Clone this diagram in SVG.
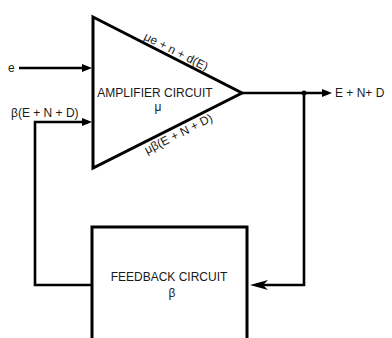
<svg xmlns="http://www.w3.org/2000/svg" width="392" height="338" viewBox="0 0 392 338">
<style>
.shape{fill:none;stroke:#000;stroke-width:3;stroke-linejoin:miter}
.wire{fill:none;stroke:#000;stroke-width:2.6}
text{font-family:"Liberation Sans",Arial,sans-serif;fill:#1a1a1a}
.lbl{font-size:12px}
.small{font-size:12px}
</style>
<defs>
<marker id="arr" markerUnits="userSpaceOnUse" markerWidth="12" markerHeight="10" refX="6" refY="4" orient="auto">
<path d="M0,0 L10,4 L0,8 z" fill="#000"/>
</marker>
<marker id="stealth" markerUnits="userSpaceOnUse" markerWidth="20" markerHeight="12" refX="12" refY="5" orient="auto">
<path d="M0,0 L18,5 L0,10 L5,5 z" fill="#000"/>
</marker>
</defs>
<rect width="392" height="338" fill="#fff"/>
<g id="amplifier">
<path class="shape" d="M93,17 L242,93 L93,168 Z"/>
<text class="lbl" x="155" y="97" text-anchor="middle">AMPLIFIER CIRCUIT</text>
<text class="lbl" x="158" y="111" text-anchor="middle">μ</text>
<text class="small" transform="translate(173,57.8) rotate(27)" x="0" y="-3" text-anchor="middle">μe + n + d(E)</text>
<text class="small" transform="translate(175,126.7) rotate(-26.7)" x="0" y="12" text-anchor="middle">μβ(E + N + D)</text>
</g>
<g id="feedback">
<path class="shape" d="M92,340 V227 H247 V340"/>
<text class="lbl" x="169" y="281" text-anchor="middle">FEEDBACK CIRCUIT</text>
<text class="lbl" x="172" y="297" text-anchor="middle">β</text>
</g>
<g id="labels">
<text class="lbl" x="8" y="72">e</text>
<text class="lbl" x="11" y="117">β(E + N + D)</text>
<text class="lbl" x="335" y="97">E + N+ D</text>
</g>
<g id="connectors">
<path class="wire" d="M19,68 H88" marker-end="url(#arr)"/>
<path class="wire" d="M92,285 H35 V122 H88" marker-end="url(#arr)"/>
<path class="wire" d="M242,93 H328" marker-end="url(#arr)"/>
<path class="wire" d="M304,93 V285 H256" marker-end="url(#stealth)"/>
<circle cx="304" cy="93" r="2.5" fill="#000"/>
</g>
</svg>
